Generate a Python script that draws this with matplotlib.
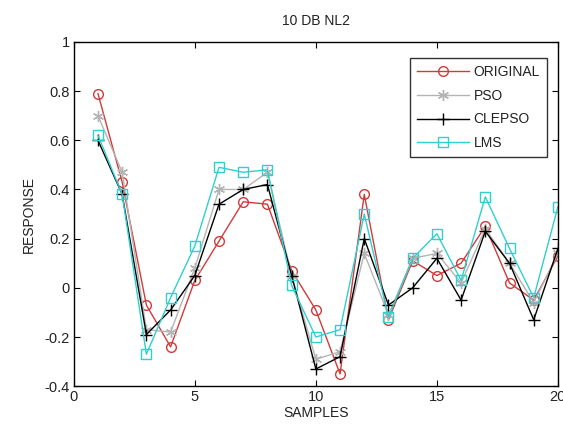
import matplotlib
matplotlib.use("Agg")
import matplotlib.pyplot as plt

plt.rcParams["font.family"] = ["Liberation Sans", "DejaVu Sans"]

samples = list(range(1, 21))
original = [0.79, 0.43, -0.07, -0.24, 0.03, 0.19, 0.35, 0.34, 0.07, -0.09,
            -0.35, 0.38, -0.13, 0.11, 0.05, 0.10, 0.25, 0.02, -0.05, 0.13]
pso = [0.70, 0.47, -0.17, -0.18, 0.08, 0.40, 0.40, 0.47, 0.05, -0.29,
       -0.26, 0.14, -0.11, 0.12, 0.14, 0.02, 0.24, 0.10, -0.06, 0.14]
clepso = [0.60, 0.38, -0.19, -0.09, 0.05, 0.34, 0.40, 0.42, 0.05, -0.33,
          -0.28, 0.20, -0.07, 0.00, 0.12, -0.05, 0.23, 0.10, -0.13, 0.16]
lms = [0.62, 0.38, -0.27, -0.04, 0.17, 0.49, 0.47, 0.48, 0.01, -0.20,
       -0.17, 0.30, -0.12, 0.12, 0.22, 0.03, 0.37, 0.16, -0.04, 0.33]

xticks = [0, 5, 10, 15, 20]
yticks = [-0.4, -0.2, 0, 0.2, 0.4, 0.6, 0.8, 1]
ytick_labels = ["-0.4", "-0.2", "0", "0.2", "0.4", "0.6", "0.8", "1"]

TEXT = "#222222"

fig = plt.figure(figsize=(5.63, 4.32), dpi=100)
ax = fig.add_axes([0.131, 0.106, 0.86, 0.797])

# MATLAB-style asterisk marker for PSO
asterisk = (6, 2, 0)

ax.plot(samples, original, color="#d23a3a", lw=1, marker="o", ms=7,
        mfc="none", mec="#d23a3a", label="ORIGINAL")
ax.plot(samples, pso, color="#b4b4b4", lw=1, marker=asterisk, ms=8,
        mfc="none", mec="#b4b4b4", mew=1, label="PSO")
ax.plot(samples, clepso, color="black", lw=1, marker="+", ms=9,
        mew=1, label="CLEPSO")
ax.plot(samples, lms, color="#2ed0d0", lw=1, marker="s", ms=7,
        mfc="none", mec="#2ed0d0", label="LMS")

ax.set_xlim(0, 20)
ax.set_ylim(-0.4, 1)
ax.set_xticks(xticks)
ax.set_yticks(yticks)
ax.set_yticklabels(ytick_labels)
ax.tick_params(direction="in", top=True, right=True, labelsize=10.5,
               length=4, labelcolor=TEXT, pad=3)
for s in ax.spines.values():
    s.set_linewidth(1)

ax.set_title("10 DB NL2", fontsize=10, pad=12, color=TEXT)
ax.set_xlabel("SAMPLES", fontsize=10, labelpad=1, color=TEXT)
ax.set_ylabel("RESPONSE", fontsize=10, labelpad=6, color=TEXT)

leg = ax.legend(loc="upper right", bbox_to_anchor=(0.977, 0.953), fontsize=10,
                frameon=True, fancybox=False, edgecolor="black",
                handlelength=3.8, borderpad=0.5, labelspacing=0.7,
                handletextpad=0.3, borderaxespad=0)
leg.get_frame().set_linewidth(1)
for t in leg.get_texts():
    t.set_color(TEXT)

fig.savefig("out.png", dpi=100)
